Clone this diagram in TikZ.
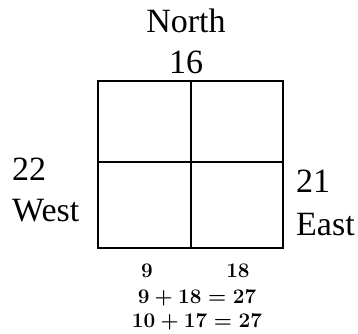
\documentclass[tikz,border=0pt]{standalone}
\usepackage{amsmath,amssymb}
\usepackage{fontspec}
\setmainfont{Liberation Serif}
\usetikzlibrary{positioning,calc}

\begin{document}
\begin{tikzpicture}[x=1pt,y=-1pt,
    side/.style={anchor=base,font=\fontsize{34}{40}\selectfont,inner sep=0pt},
    sum/.style={anchor=base,font=\fontsize{21.5}{24}\selectfont\boldmath,inner sep=0pt}]
    \useasboundingbox (0,0) rectangle (358,333);
    % grid
    \coordinate (nw) at (98,81);
    \coordinate (se) at (283,248);
    \draw[line width=2.8pt] (nw) rectangle (se);
    \draw[line width=2.8pt] (191,81) -- (191,248);
    \draw[line width=2.8pt] (98,162) -- (283,162);
    % labels
    \node[side] (north) at (186,32) {North};
    \node[side] (ncount) at (186,73) {16};
    \node[side,anchor=base west] (wcount) at (12,180) {22};
    \node[side,anchor=base west] (west) at (12,221) {West};
    \node[side,anchor=base west] (ecount) at (296,192) {21};
    \node[side,anchor=base west] (east) at (296,235) {East};
    % sums
    \node[sum] (left) at (147,277) {$9$};
    \node[sum] (right) at (238,277) {$18$};
    \node[sum] (sumone) at (197,303) {$9+18=27$};
    \node[sum] (sumtwo) at (197,327) {$10+17=27$};
\end{tikzpicture}
\end{document}
